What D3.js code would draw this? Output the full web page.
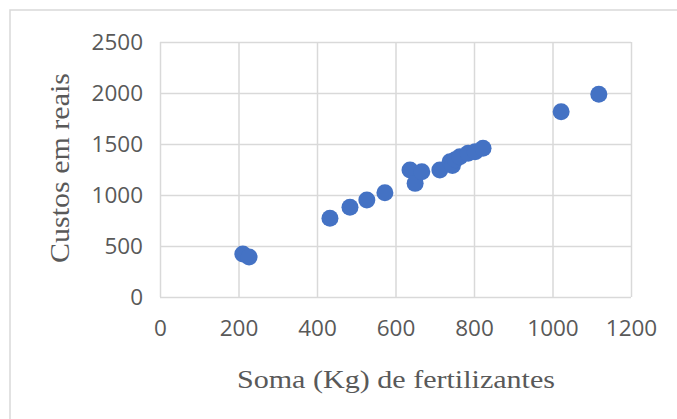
<!DOCTYPE html>
<html>
<head>
<meta charset="utf-8">
<script src="https://cdn.jsdelivr.net/npm/d3@7"></script>
<style>
  body { margin: 0; background: #fff; }
</style>
</head>
<body>
<div id="chart"></div>
<script>
// valores
const somaKg = [211, 227, 433, 484, 527, 573, 637, 650, 667, 713, 739, 745, 752, 764, 785, 803, 823, 1022, 1118];
const custos = [422, 392, 771, 879, 951, 1023, 1245, 1114, 1229, 1245, 1327, 1290, 1345, 1376, 1409, 1425, 1458, 1817, 1987];
const xTicks = [0, 200, 400, 600, 800, 1000, 1200];
const yTicks = [0, 500, 1000, 1500, 2000, 2500];

const W = 677, H = 419;
const margin = { top: 42, right: 46, bottom: 122, left: 160 };
const width = W - margin.left - margin.right;
const height = H - margin.top - margin.bottom;

const svg = d3.select("#chart")
    .append("svg")
    .attr("width", W)
    .attr("height", H);

// moldura externa
svg.append("rect")
    .attr("x", 10).attr("y", 10)
    .attr("width", W).attr("height", H)
    .attr("fill", "none")
    .attr("stroke", "#d9d9d9")
    .attr("stroke-width", 1.5);

const g = svg.append("g")
    .attr("transform", `translate(${margin.left},${margin.top})`);

const x = d3.scaleLinear().domain([0, 1200]).range([0, width]);
const y = d3.scaleLinear().domain([0, 2500]).range([height, 0]);

// grade
g.append("g")
    .call(d3.axisLeft(y).tickValues(yTicks).tickSize(-width).tickFormat(""))
    .call(a => a.select(".domain").remove())
    .selectAll("line").attr("stroke", "#d9d9d9").attr("stroke-width", 1.5);

g.append("g")
    .attr("transform", `translate(0,${height})`)
    .call(d3.axisBottom(x).tickValues(xTicks).tickSize(-height).tickFormat(""))
    .call(a => a.select(".domain").remove())
    .selectAll("line").attr("stroke", "#d9d9d9").attr("stroke-width", 1.5);

// rótulos dos eixos
const yAxis = g.append("g")
    .call(d3.axisLeft(y).tickValues(yTicks).tickSize(0).tickPadding(17).tickFormat(d3.format("d")));
yAxis.select(".domain").remove();
yAxis.selectAll("text")
    .attr("fill", "#595959")
    .style("font-family", "'Open Sans', sans-serif")
    .style("font-size", "22.5px");

const xAxis = g.append("g")
    .attr("transform", `translate(0,${height})`)
    .call(d3.axisBottom(x).tickValues(xTicks).tickSize(0).tickPadding(23).tickFormat(d3.format("d")));
xAxis.select(".domain").remove();
xAxis.selectAll("text")
    .attr("fill", "#595959")
    .style("font-family", "'Open Sans', sans-serif")
    .style("font-size", "22.5px");

// pontos
g.selectAll("circle")
    .data(somaKg)
    .join("circle")
    .attr("cx", d => x(d))
    .attr("cy", (d, i) => y(custos[i]))
    .attr("r", 8.5)
    .attr("fill", "#4472c4");

// títulos
svg.append("text")
    .attr("x", 396)
    .attr("y", 388)
    .attr("text-anchor", "middle")
    .attr("fill", "#595959")
    .attr("textLength", 318)
    .attr("lengthAdjust", "spacingAndGlyphs")
    .style("font-family", "'Liberation Serif', serif")
    .style("font-size", "26px")
    .text("Soma (Kg) de fertilizantes");

svg.append("text")
    .attr("transform", "translate(69,168) rotate(-90)")
    .attr("text-anchor", "middle")
    .attr("fill", "#595959")
    .attr("textLength", 190)
    .attr("lengthAdjust", "spacingAndGlyphs")
    .style("font-family", "'Liberation Serif', serif")
    .style("font-size", "28px")
    .text("Custos em reais");
</script>
</body>
</html>
